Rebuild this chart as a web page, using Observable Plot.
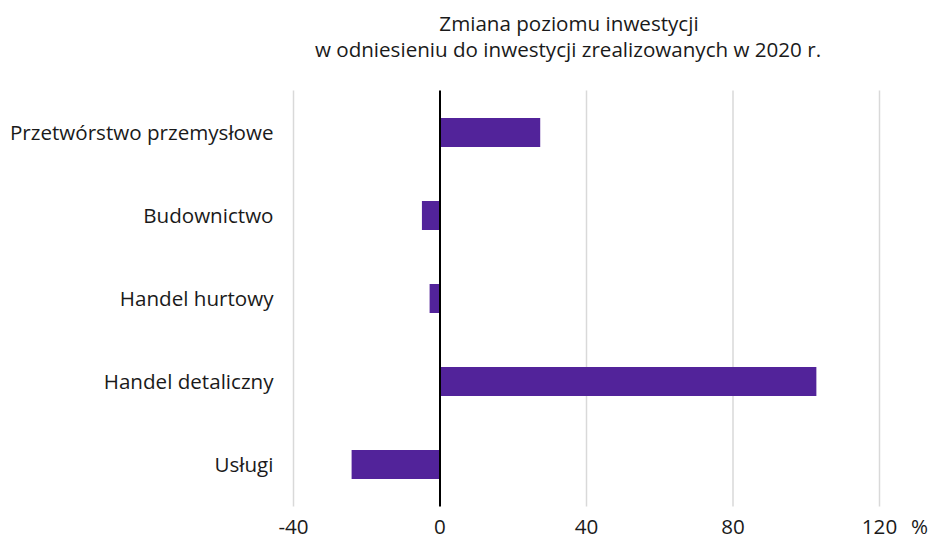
<!DOCTYPE html>
<html><head><meta charset="utf-8">
<script src="https://cdn.jsdelivr.net/npm/d3@7"></script>
<script src="https://cdn.jsdelivr.net/npm/@observablehq/plot@0.6"></script>
<style>
body{margin:0;background:#fff;font-family:"Open Sans",sans-serif;color:#1a1a1a}
#wrap{position:relative;width:930px;height:540px}
.t{position:absolute;transform:translateX(-50%);white-space:nowrap;font-size:20.6px;line-height:1}
</style></head><body>
<div id="wrap">
<div class="t" id="t1" style="left:569px;top:12.7px">Zmiana poziomu inwestycji</div>
<div class="t" id="t2" style="left:568px;top:38.7px">w odniesieniu do inwestycji zrealizowanych w 2020 r.</div>
<div id="chart" style="position:absolute;left:0;top:72px"></div>
</div>
<script>
const categories = ["Przetwórstwo przemysłowe","Budownictwo","Handel hurtowy","Handel detaliczny","Usługi"];
const values = [27.5, -4.8, -2.7, 102.9, -24.0];
const xTicks = [-40, 0, 40, 80, 120];
const gridTicks = [-40, 40, 80, 120];
const unitLabel = "%";

const data = categories.map((c, i) => ({category: c, value: values[i]}));

const chart = Plot.plot({
  width: 930,
  height: 468,
  marginLeft: 293,
  marginRight: 51,
  marginTop: 18.4,
  marginBottom: 33.4,
  style: {fontFamily: "Open Sans, sans-serif", fontSize: "20.6px", color: "#1a1a1a", background: "#fff"},
  x: {domain: [-40, 120], ticks: xTicks, tickFormat: d => String(d), label: null},
  y: {domain: categories, paddingInner: 0.648, paddingOuter: 0.324, label: null},
  marks: [
    Plot.ruleX(gridTicks, {stroke: "#d9d9d9", strokeWidth: 1.5}),
    Plot.barX(data, {x: "value", y: "category", fill: "#52239a"}),
    Plot.ruleX([0], {stroke: "#000", strokeWidth: 2}),
    Plot.axisX({ticks: xTicks, tickSize: 0, tickPadding: 12.5, tickFormat: d => String(d), label: null}),
    Plot.axisY({tickSize: 0, tickPadding: 20, label: null}),
    Plot.text([unitLabel], {frameAnchor: "bottom-right", text: d => d, dx: 40, dy: 12.5, textAnchor: "middle", lineAnchor: "top"})
  ]
});
document.getElementById("chart").appendChild(chart);
</script>
</body></html>
